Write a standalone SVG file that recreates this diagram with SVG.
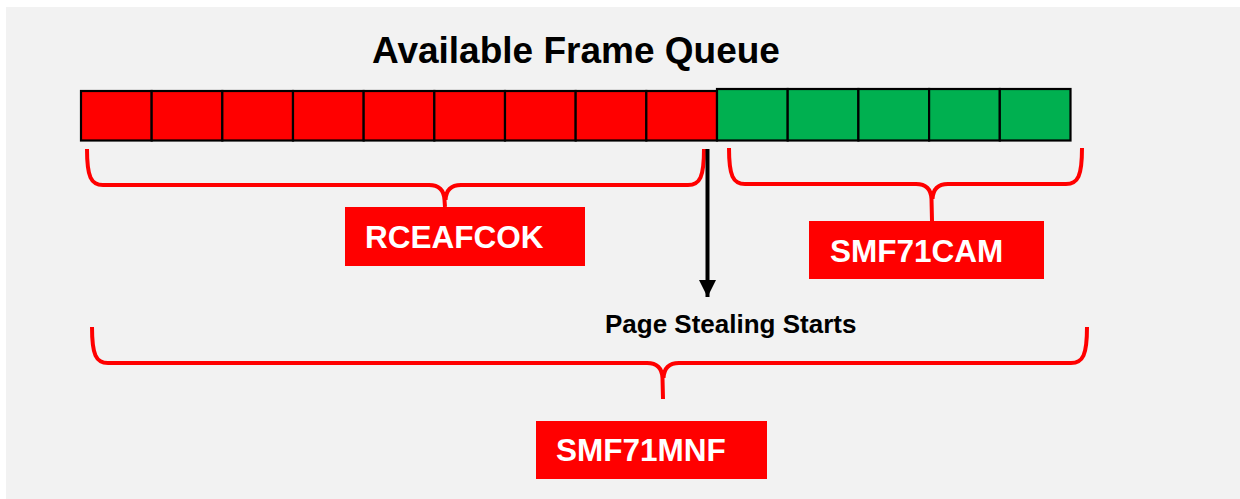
<svg xmlns="http://www.w3.org/2000/svg" width="1240" height="499" viewBox="0 0 1240 499">
  <style>
    .title { font-family: "Liberation Sans", Arial, sans-serif; font-weight: bold; font-size: 37px; fill: #000; }
    .note { font-family: "Liberation Sans", Arial, sans-serif; font-weight: bold; font-size: 26px; fill: #000; }
    .lbl { font-family: "Liberation Sans", Arial, sans-serif; font-weight: bold; font-size: 31.5px; fill: #fff; }
    .lblbox { fill: #FF0000; }
    .used { fill: #FF0000; stroke: #000; stroke-width: 2.2; }
    .free { fill: #00B050; stroke: #000; stroke-width: 2.2; }
    .brace { fill: none; stroke: #FF0000; stroke-width: 4; stroke-linejoin: round; }
    .pointer { stroke: #000; stroke-width: 4; }
  </style>
  <defs>
    <marker id="head" markerUnits="userSpaceOnUse" markerWidth="18" markerHeight="18" refX="17" refY="8.5" orient="auto">
      <path d="M0,0 L17,8.5 L0,17 Z" fill="#000"/>
    </marker>
  </defs>

  <!-- panel -->
  <rect x="0" y="0" width="1240" height="499" fill="#ffffff"/>
  <rect x="6" y="7" width="1234" height="492" fill="#F2F2F2"/>

  <text class="title" x="576" y="63" text-anchor="middle">Available Frame Queue</text>

  <!-- frame queue: allocated (red) and available (green) slots -->
  <g id="queue">
    <rect class="used" x="81" y="91" width="70.67" height="49.5"/>
    <rect class="used" x="151.67" y="91" width="70.67" height="49.5"/>
    <rect class="used" x="222.33" y="91" width="70.67" height="49.5"/>
    <rect class="used" x="293" y="91" width="70.67" height="49.5"/>
    <rect class="used" x="363.67" y="91" width="70.67" height="49.5"/>
    <rect class="used" x="434.33" y="91" width="70.67" height="49.5"/>
    <rect class="used" x="505" y="91" width="70.67" height="49.5"/>
    <rect class="used" x="575.67" y="91" width="70.67" height="49.5"/>
    <rect class="used" x="646.33" y="91" width="70.67" height="49.5"/>
    <rect class="free" x="717" y="89" width="70.7" height="51.5"/>
    <rect class="free" x="787.7" y="89" width="70.7" height="51.5"/>
    <rect class="free" x="858.4" y="89" width="70.7" height="51.5"/>
    <rect class="free" x="929.1" y="89" width="70.7" height="51.5"/>
    <rect class="free" x="999.8" y="89" width="70.7" height="51.5"/>
  </g>

  <!-- braces and the page-stealing pointer -->
  <g id="connectors">
    <path class="brace" d="M87,149 C87,177 91,185 103,185 L429,185 C439,185 444,190 444.5,200 L445,207 M445.5,200 C446,190 451,185 461,185 L688,185 C700,185 704,177 704,149"/>
    <path class="brace" d="M729,148 C729,176 733,184 745,184 L916,184 C926,184 931,189 931.5,199 L932,221 M932.5,199 C933,189 938,184 948,184 L1066,184 C1078,184 1082,176 1082,148"/>
    <path class="brace" d="M92,327 C92,355 96,363 108,363 L647,363 C657,363 662,368 662.5,378 L663,399 M663.5,378 C664,368 669,363 679,363 L1071,363 C1083,363 1087,355 1087,327"/>
    <line class="pointer" x1="707.5" y1="149" x2="707.5" y2="297" marker-end="url(#head)"/>
  </g>

  <g id="rceafcok">
    <rect class="lblbox" x="345" y="207" width="240" height="59"/>
    <text class="lbl" x="365" y="248">RCEAFCOK</text>
  </g>

  <g id="smf71cam">
    <rect class="lblbox" x="809" y="221" width="235" height="58"/>
    <text class="lbl" x="830" y="262">SMF71CAM</text>
  </g>

  <g id="page-stealing">
    <text class="note" x="605" y="333">Page Stealing Starts</text>
  </g>

  <g id="smf71mnf">
    <rect class="lblbox" x="536" y="421" width="231" height="58"/>
    <text class="lbl" x="556" y="461">SMF71MNF</text>
  </g>
</svg>
